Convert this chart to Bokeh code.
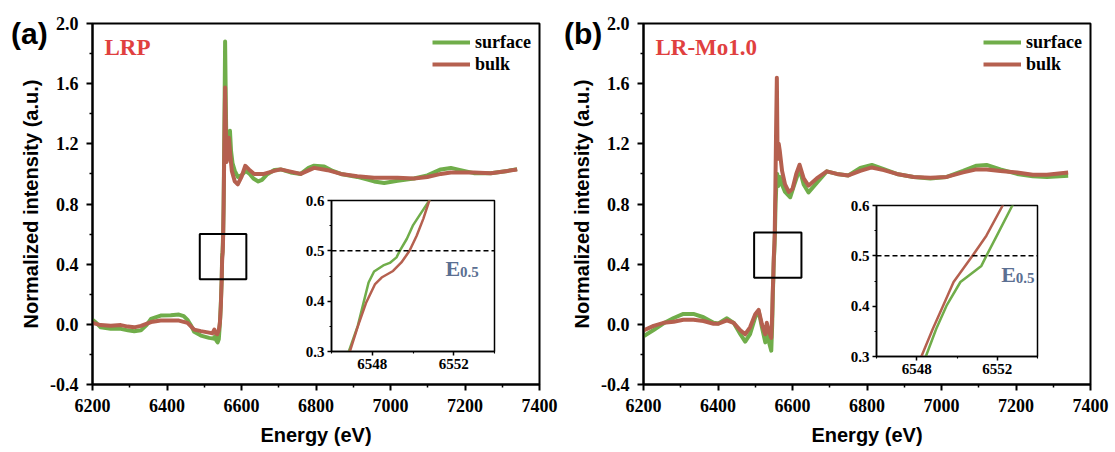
from bokeh.plotting import figure
from bokeh.models import (Row, Div, Range1d, FixedTicker, NumeralTickFormatter, Label,
                          Span, ColumnDataSource)
from bokeh.embed import file_html
from bokeh.resources import INLINE

# ---------------- data ----------------
# Panel (a) LRP
lrp_surface_e = [6200, 6210, 6222, 6249, 6276, 6295, 6312, 6330, 6345, 6357, 6383, 6410, 6432, 6445,
                 6455, 6465, 6473, 6491, 6513, 6525, 6529, 6533, 6536, 6539, 6541, 6543, 6545,
                 6546.85, 6547.29, 6547.58, 6547.82, 6548.09, 6548.54, 6548.86, 6549.19, 6549.35,
                 6549.70, 6549.99, 6550.31, 6550.80, 6552, 6554, 6556, 6558, 6560, 6563, 6566,
                 6569, 6572, 6576, 6582, 6590, 6600, 6611, 6622, 6632, 6645, 6655, 6668, 6688,
                 6705, 6732, 6759, 6780, 6795, 6822, 6845, 6867, 6911, 6956, 6983, 7019, 7063,
                 7099, 7135, 7162, 7188, 7224, 7269, 7314, 7340]
lrp_surface_i = [0.03, 0.01, -0.02, -0.03, -0.03, -0.04, -0.046, -0.04, -0.005, 0.036, 0.058, 0.06,
                 0.065, 0.055, 0.03, -0.01, -0.05, -0.075, -0.09, -0.095, -0.08, -0.11, -0.12, -0.1,
                 -0.03, 0.05, 0.17, 0.30, 0.351, 0.398, 0.437, 0.459, 0.471, 0.476, 0.487, 0.50,
                 0.524, 0.55, 0.57, 0.60, 0.80, 1.30, 1.88, 1.45, 1.10, 1.12, 1.22, 1.287, 1.15,
                 1.07, 1.02, 0.98, 0.99, 1.02, 1.0, 0.97, 0.95, 0.96, 0.995, 1.026, 1.03, 1.01,
                 1.0, 1.04, 1.055, 1.05, 1.02, 1.0, 0.98, 0.95, 0.94, 0.955, 0.97, 0.99, 1.03,
                 1.04, 1.025, 1.005, 1.005, 1.02, 1.032]
lrp_bulk_e = [6200, 6222, 6249, 6276, 6295, 6312, 6330, 6357, 6383, 6410, 6432, 6455, 6473, 6491,
              6513, 6522, 6527, 6531, 6535, 6539, 6542, 6544.5, 6545.8, 6546.9, 6547.3, 6547.71,
              6548.14, 6548.46, 6549.02, 6549.43, 6549.83, 6550.18, 6550.51, 6550.80, 6552, 6554,
              6556, 6558, 6560, 6563, 6566, 6569, 6574, 6582, 6590, 6600, 6610, 6620, 6634, 6660,
              6688, 6705, 6732, 6759, 6795, 6831, 6867, 6911, 6956, 7019, 7063, 7099, 7135, 7162,
              7224, 7269, 7314, 7340]
lrp_bulk_i = [0.01, -0.005, -0.01, -0.005, -0.015, -0.02, -0.01, 0.015, 0.025, 0.025, 0.025, 0.01,
              -0.035, -0.045, -0.055, -0.06, -0.035, -0.06, -0.065, -0.04, 0.01, 0.12, 0.22, 0.30,
              0.351, 0.398, 0.434, 0.447, 0.46, 0.477, 0.50, 0.53, 0.564, 0.60, 0.78, 1.20, 1.575,
              1.30, 1.08, 1.12, 1.24, 1.15, 1.02, 0.95, 0.93, 0.98, 1.054, 1.03, 1.0, 1.0, 1.02,
              1.03, 1.015, 1.0, 1.04, 1.025, 1.0, 0.985, 0.975, 0.975, 0.97, 0.98, 1.0, 1.01,
              1.01, 1.005, 1.02, 1.03]

# Panel (b) LR-Mo1.0
mo_surface_e = [6200, 6227, 6254, 6281, 6307, 6334, 6361, 6388, 6401, 6424, 6442, 6460, 6473, 6486,
                6500, 6509, 6518, 6527, 6531, 6536, 6543, 6545.5, 6547.2, 6548.45, 6548.97, 6549.48,
                6550.17, 6550.69, 6551.21, 6551.46, 6551.98, 6552.75, 6554.5, 6557, 6559, 6562,
                6566, 6570, 6580, 6594, 6605, 6619, 6630, 6643, 6665, 6692, 6719, 6750, 6782, 6813,
                6845, 6880, 6925, 6970, 7014, 7058, 7094, 7121, 7158, 7203, 7245, 7283, 7340]
mo_surface_i = [-0.08, -0.038, 0.007, 0.042, 0.069, 0.069, 0.047, 0.01, 0.006, 0.04, 0.01, -0.065,
                -0.115, -0.065, 0.047, 0.09, -0.02, -0.12, -0.02, -0.11, -0.175, 0.0, 0.2, 0.30,
                0.355, 0.401, 0.448, 0.464, 0.48, 0.50, 0.54, 0.60, 0.80, 0.95, 1.0, 0.92, 0.98,
                0.94, 0.88, 0.845, 0.93, 1.032, 0.93, 0.877, 0.94, 1.017, 1.0, 0.99, 1.04, 1.06,
                1.032, 1.0, 0.98, 0.97, 0.98, 1.02, 1.055, 1.06, 1.03, 1.0, 0.985, 0.98, 0.988]
mo_bulk_e = [6200, 6227, 6254, 6281, 6307, 6334, 6361, 6388, 6401, 6424, 6442, 6460, 6473, 6486,
             6500, 6509, 6518, 6527, 6531, 6536, 6543, 6545.5, 6547, 6548.23, 6548.80, 6549.31,
             6549.83, 6550.77, 6551.46, 6552.27, 6554, 6556, 6558, 6560, 6563, 6566, 6572, 6580,
             6590, 6600, 6610, 6619, 6630, 6643, 6665, 6692, 6719, 6750, 6782, 6813, 6845, 6880,
             6925, 6970, 7014, 7058, 7094, 7121, 7158, 7203, 7245, 7283, 7340]
mo_bulk_i = [-0.04, -0.01, 0.01, 0.017, 0.03, 0.03, 0.022, 0.004, 0.004, 0.027, 0.01, -0.04, -0.066,
             -0.02, 0.067, 0.096, 0.0, -0.066, 0.01, -0.045, -0.09, 0.07, 0.22, 0.30, 0.355, 0.401,
             0.448, 0.50, 0.54, 0.60, 0.90, 1.30, 1.64, 1.10, 1.20, 1.15, 1.02, 0.93, 0.88, 0.90,
             1.0, 1.061, 0.97, 0.922, 0.97, 1.017, 1.0, 0.99, 1.02, 1.043, 1.025, 1.0, 0.98, 0.975,
             0.98, 1.01, 1.03, 1.03, 1.02, 1.01, 0.995, 0.995, 1.01]

series_names = ["surface", "bulk"]
panel_tags = ["(a)", "(b)"]
sample_names = ["LRP", "LR-Mo1.0"]

# zoom boxes (data units) marked on the main plots
box_a = dict(left=[6488], right=[6613], bottom=[0.30], top=[0.60])
box_b = dict(left=[6497], right=[6624], bottom=[0.31], top=[0.61])

x_major = [6200, 6400, 6600, 6800, 7000, 7200, 7400]
x_minor = [6300, 6500, 6700, 6900, 7100, 7300]
y_major = [-0.4, 0.0, 0.4, 0.8, 1.2, 1.6, 2.0]
y_minor = [-0.2, 0.2, 0.6, 1.0, 1.4, 1.8]

inset_x_range = (6546, 6554)
inset_y_range = (0.3, 0.6)
inset_x_major = [6548, 6552]
inset_x_minor = [6546, 6550, 6554]
inset_y_major = [0.3, 0.4, 0.5, 0.6]
inset_y_minor = [0.35, 0.45, 0.55]
e_half = 0.5

GREEN = "#70ad4a"
BROWN = "#b5604f"
RED = "#e0403f"
SLATE = "#5b6f92"
SERIF = "Liberation Serif"
SANS = "Liberation Sans"
FIG_H = 451
TOP_B = 23
FRAME_H = 361
BOT_B = FIG_H - TOP_B - FRAME_H
INSET_FH = 151


def style_axis(ax, font_px, tick_out, minor_out, lw, standoff):
    ax.axis_line_width = lw
    ax.axis_line_color = "black"
    ax.major_tick_line_width = lw
    ax.minor_tick_line_width = lw * 0.75
    ax.major_tick_out = tick_out
    ax.major_tick_in = 0
    ax.minor_tick_out = minor_out
    ax.minor_tick_in = 0
    ax.major_label_text_font = SERIF
    ax.major_label_text_font_style = "bold"
    ax.major_label_text_font_size = f"{font_px}px"
    ax.major_label_text_color = "black"
    ax.major_label_standoff = standoff


def main_fig(left_border, right_border, s_e, s_i, b_e, b_i, box, name):
    p = figure(frame_width=447, frame_height=FRAME_H, title=None,
               min_border_left=left_border, min_border_right=right_border,
               min_border_top=TOP_B, min_border_bottom=BOT_B,
               x_range=Range1d(6200, 7400), y_range=Range1d(-0.4, 2.0),
               output_backend="svg", toolbar_location=None)
    p.grid.visible = False
    p.outline_line_color = "black"
    p.outline_line_width = 2
    p.background_fill_color = "white"
    p.border_fill_color = "white"

    p.xaxis.ticker = FixedTicker(ticks=x_major, minor_ticks=x_minor)
    p.yaxis.ticker = FixedTicker(ticks=y_major, minor_ticks=y_minor)
    p.xaxis.formatter = NumeralTickFormatter(format="0")
    p.yaxis.formatter = NumeralTickFormatter(format="0.0")
    for ax in (p.xaxis[0], p.yaxis[0]):
        style_axis(ax, 18, 6, 3, 2, 8)
        ax.axis_label_text_font = SANS
        ax.axis_label_text_font_style = "bold"
        ax.axis_label_text_font_size = "20px"
        ax.axis_label_text_color = "black"
    p.xaxis.axis_label = "Energy (eV)"
    p.xaxis.axis_label_standoff = 9
    p.yaxis.axis_label = "Normalized intensity (a.u.)"
    p.yaxis.axis_label_standoff = 5

    p.line(s_e, s_i, line_color=GREEN, line_width=4, line_join="round",
           legend_label=series_names[0])
    p.line(b_e, b_i, line_color=BROWN, line_width=4, line_join="round",
           legend_label=series_names[1])

    p.quad(source=ColumnDataSource(box), left="left", right="right", bottom="bottom", top="top",
           fill_alpha=0, line_color="black", line_width=2)

    lg = p.legend[0]
    lg.location = "top_right"
    lg.margin = 8
    lg.padding = 0
    lg.spacing = 0
    lg.label_standoff = 5
    lg.glyph_width = 38
    lg.glyph_height = 22
    lg.label_height = 22
    lg.border_line_alpha = 0
    lg.background_fill_alpha = 0
    lg.label_text_font = SERIF
    lg.label_text_font_style = "bold"
    lg.label_text_font_size = "18px"
    lg.label_text_color = "black"

    p.add_layout(Label(x=12, y=337, x_units="screen", y_units="screen", text=name,
                       text_font=SERIF, text_font_style="bold", text_font_size="23px",
                       text_color=RED, text_baseline="alphabetic"))
    return p


def inset_fig(frame_w, frame_left, frame_top, s_e, s_i, b_e, b_i, lab_x, lab_y):
    # the row aligns plot frames, so the inset keeps the same top/bottom borders
    # as the main plots; its canvas is transparent outside its own frame
    q = figure(width=32 + frame_w + 6, height=TOP_B + INSET_FH + BOT_B, title=None,
               min_border_left=32, min_border_right=6,
               min_border_top=TOP_B, min_border_bottom=BOT_B,
               x_range=Range1d(*inset_x_range), y_range=Range1d(*inset_y_range),
               output_backend="svg", toolbar_location=None,
               styles={"position": "absolute", "left": f"{frame_left - 32}px",
                       "top": f"{frame_top - TOP_B}px"})
    q.grid.visible = False
    q.outline_line_color = "black"
    q.outline_line_width = 1.5
    q.background_fill_color = "white"
    q.border_fill_alpha = 0
    q.xaxis.ticker = FixedTicker(ticks=inset_x_major, minor_ticks=inset_x_minor)
    q.yaxis.ticker = FixedTicker(ticks=inset_y_major, minor_ticks=inset_y_minor)
    q.xaxis.formatter = NumeralTickFormatter(format="0")
    q.yaxis.formatter = NumeralTickFormatter(format="0.0")
    for ax in (q.xaxis[0], q.yaxis[0]):
        style_axis(ax, 15, 4, 2, 1.5, 3)
    q.add_layout(Span(location=e_half, dimension="width", line_color="black", line_width=1.5,
                      line_dash="5 3"))
    q.line(s_e, s_i, line_color=GREEN, line_width=2.5, line_join="round")
    q.line(b_e, b_i, line_color=BROWN, line_width=2.5, line_join="round")
    q.add_layout(Label(x=lab_x, y=lab_y, text="E", text_font=SERIF, text_font_style="bold",
                       text_font_size="22px", text_color=SLATE, text_baseline="alphabetic"))
    q.add_layout(Label(x=lab_x, y=lab_y, x_offset=14.5, y_offset=-4, text="0.5", text_font=SERIF,
                       text_font_style="bold", text_font_size="15px", text_color=SLATE,
                       text_baseline="alphabetic"))
    return q


def tag_div(text, left, top):
    return Div(text=text, width=60, height=40, margin=0,
               styles={"position": "absolute", "left": f"{left}px", "top": f"{top}px",
                       "font-family": SANS, "font-weight": "bold", "font-size": "30px",
                       "color": "black", "line-height": "normal"})


fa = main_fig(92, 21, lrp_surface_e, lrp_surface_i, lrp_bulk_e, lrp_bulk_i, box_a, sample_names[0])
fb = main_fig(83, 23, mo_surface_e, mo_surface_i, mo_bulk_e, mo_bulk_i, box_b, sample_names[1])

da = tag_div(panel_tags[0], 11, 17)
db = tag_div(panel_tags[1], 564, 17)
ia = inset_fig(163, 331, 200, lrp_surface_e, lrp_surface_i, lrp_bulk_e, lrp_bulk_i, 6551.6, 0.465)
ib = inset_fig(161, 876, 205, mo_surface_e, mo_surface_i, mo_bulk_e, mo_bulk_i, 6552.2, 0.463)

layout = Row(children=[fa, fb, ia, ib, da, db], spacing=0, styles={"position": "relative"})

open("out.html", "w").write(file_html(layout, INLINE))
